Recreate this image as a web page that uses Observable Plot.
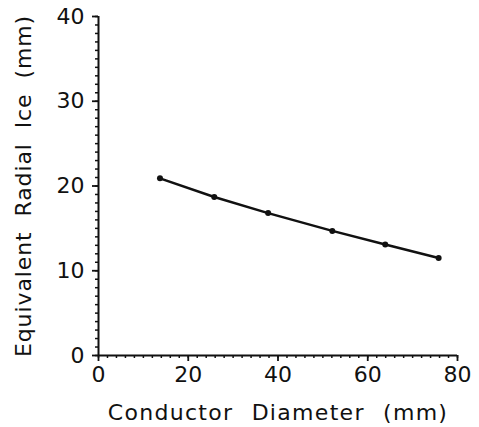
<!DOCTYPE html>
<html>
<head>
<meta charset="utf-8">
<script src="https://cdn.jsdelivr.net/npm/d3@7"></script>
<script src="https://cdn.jsdelivr.net/npm/@observablehq/plot@0.6"></script>
<style>
  html, body { margin: 0; padding: 0; background: #fff; }
  svg { display: block; }
  g[aria-label="x-axis label"] text { letter-spacing: 1.3px; word-spacing: 10px; }
  g[aria-label="y-axis label"] text { letter-spacing: 0.9px; word-spacing: 7px; }
</style>
</head>
<body>
<div id="chart"></div>
<script>
const diameter = [13.7, 25.8, 37.8, 52.1, 63.9, 75.8];
const radialIce = [20.9, 18.7, 16.8, 14.7, 13.1, 11.5];
const xMajorTicks = [0, 20, 40, 60, 80];
const yMajorTicks = [0, 10, 20, 30, 40];
const xMinorTicks = d3.range(0, 81, 2);
const yMinorTicks = d3.range(0, 41, 1);

const data = diameter.map((d, i) => ({x: d, y: radialIce[i]}));

const font = "DejaVu Sans";
const blank = () => "";
const plot = Plot.plot({
  width: 479,
  height: 427,
  marginLeft: 98,
  marginTop: 16,
  marginBottom: 72,
  marginRight: 22,
  style: {fontFamily: font, fontSize: "22px", color: "#111", background: "#fff"},
  x: {domain: [0, 80]},
  y: {domain: [0, 40]},
  marks: [
    Plot.axisX({ticks: xMinorTicks, tickSize: 3, tickFormat: blank, strokeWidth: 1.5, label: null}),
    Plot.axisY({ticks: yMinorTicks, tickSize: 3, tickFormat: blank, strokeWidth: 1.5, label: null}),
    Plot.axisX({ticks: xMajorTicks, tickSize: 6, tickPadding: 5, strokeWidth: 1.8,
      label: "Conductor Diameter (mm)", labelAnchor: "center", labelArrow: "none", labelOffset: 64}),
    Plot.axisY({ticks: yMajorTicks, tickSize: 6, tickPadding: 8, strokeWidth: 1.8,
      label: "Equivalent Radial Ice (mm)", labelAnchor: "center", labelArrow: "none", labelOffset: 83}),
    Plot.ruleX([0], {stroke: "#111", strokeWidth: 2}),
    Plot.ruleY([0], {stroke: "#111", strokeWidth: 2}),
    Plot.line(data, {x: "x", y: "y", stroke: "#111", strokeWidth: 2.5}),
    Plot.dot(data, {x: "x", y: "y", r: 3, fill: "#111", stroke: "none"})
  ]
});
document.getElementById("chart").appendChild(plot);
</script>
</body>
</html>
